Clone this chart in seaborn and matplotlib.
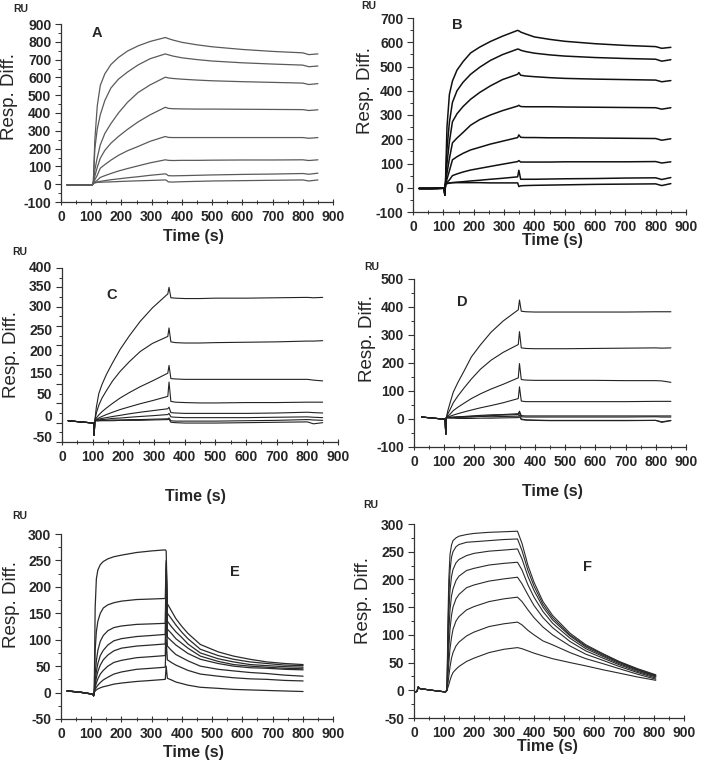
import numpy as np
import pandas as pd
import matplotlib
matplotlib.use("Agg")
import matplotlib.pyplot as plt
from matplotlib.ticker import MultipleLocator
import seaborn as sns

# ---------------- data ----------------
grid_t = [107, 112, 120, 130, 145, 165, 190, 220, 255, 295, 345, 349, 355, 370,
          400, 450, 500, 600, 700, 800, 820, 850]

a_base_t = [20, 60, 104]
a_base = [-4, -4, -3]
a_curves = [
    [10, 250, 440, 555, 620, 672, 712, 748, 777, 802, 824, 822, 818, 810, 797, 783, 772, 757, 746, 738, 728, 732],
    [10, 200, 310, 390, 470, 540, 590, 630, 670, 705, 732, 730, 727, 720, 710, 700, 692, 682, 675, 669, 660, 664],
    [10, 80, 150, 221, 285, 340, 400, 460, 515, 558, 601, 600, 597, 594, 590, 585, 581, 576, 572, 568, 560, 565],
    [10, 45, 95, 146, 190, 230, 268, 308, 350, 390, 432, 430, 426, 424, 423, 422, 422, 421, 420, 419, 414, 418],
    [8, 25, 50, 90, 110, 135, 162, 188, 212, 241, 268, 266, 263, 262, 262, 262, 262, 262, 262, 262, 258, 262],
    [6, 12, 22, 38, 48, 60, 74, 88, 103, 120, 137, 136, 134, 133, 134, 134, 135, 136, 136, 137, 133, 137],
    [5, 8, 12, 16, 20, 25, 30, 36, 42, 50, 58, 56, 48, 47, 48, 50, 52, 55, 57, 60, 56, 62],
    [5, 8, 10, 11, 12, 13, 15, 17, 19, 21, 24, 22, 13, 12, 14, 16, 18, 20, 22, 24, 18, 24],
]

b_base_t = [20, 60, 103, 105]
b_base = [-3, -3, -2, -30]
b_curves = [
    [15, 250, 385, 440, 485, 520, 556, 580, 603, 625, 649, 647, 642, 635, 622, 612, 604, 594, 587, 582, 575, 579],
    [15, 160, 270, 352, 400, 435, 468, 497, 525, 549, 572, 571, 567, 562, 555, 548, 543, 537, 533, 530, 522, 528],
    [15, 100, 190, 272, 305, 335, 365, 393, 420, 446, 468, 475, 464, 461, 458, 454, 451, 448, 446, 444, 437, 442],
    [15, 60, 120, 185, 205, 228, 258, 281, 300, 318, 337, 340, 335, 334, 334, 334, 333, 332, 331, 330, 324, 330],
    [15, 35, 70, 115, 128, 142, 156, 167, 180, 192, 207, 218, 208, 207, 207, 206, 206, 205, 204, 203, 196, 202],
    [15, 22, 32, 50, 57, 65, 73, 80, 88, 97, 108, 112, 106, 106, 106, 106, 107, 107, 107, 108, 102, 107],
    [15, 17, 19, 21, 23, 25, 28, 31, 35, 39, 45, 72, 35, 35, 35, 36, 37, 38, 40, 41, 34, 42],
    [15, 18, 20, 21, 21, 21, 21, 21, 20, 20, 20, 5, 8, 9, 10, 11, 12, 14, 15, 16, 9, 17],
]

c_base_t = [20, 60, 103, 105]
c_base = [5, 2, -1, -33]
c_curves = [
    [5, 40, 75, 98, 125, 155, 190, 225, 262, 297, 333, 350, 323, 322, 321, 321, 322, 322, 323, 324, 323, 324],
    [5, 25, 45, 63, 83, 108, 133, 158, 184, 205, 223, 245, 209, 207, 206, 206, 207, 208, 209, 211, 211, 212],
    [5, 12, 20, 28, 38, 50, 64, 78, 93, 108, 128, 148, 114, 113, 112, 112, 112, 112, 112, 112, 110, 108],
    [5, 8, 12, 16, 21, 27, 34, 41, 49, 57, 68, 105, 55, 53, 52, 51, 51, 52, 52, 53, 53, 53],
    [5, 7, 9, 11, 13, 16, 19, 23, 27, 31, 36, 40, 26, 25, 24, 24, 24, 24, 25, 27, 26, 25],
    [5, 6, 7, 8, 9, 11, 12, 14, 16, 18, 21, 24, 15, 14, 13, 13, 13, 13, 14, 15, 14, 13],
    [5, 5, 5, 6, 6, 7, 7, 8, 8, 9, 10, 12, 5, 4, 4, 4, 4, 5, 6, 8, 7, 6],
    [5, 5, 5, 5, 5, 5, 6, 6, 6, 7, 8, 9, 1, 0, -1, -1, -1, 0, 1, 2, -3, 0],
]
c_ylabels = ["400", "350", "300", "250", "200", "150", "50", "0", "-50"]

d_base_t = [25, 65, 103, 105]
d_base = [7, 3, -1, -55]
d_curves = [
    [5, 30, 60, 96, 130, 170, 222, 265, 310, 350, 390, 425, 385, 383, 382, 382, 382, 382, 382, 383, 383, 383],
    [5, 18, 35, 58, 82, 110, 143, 178, 210, 238, 266, 312, 254, 252, 251, 251, 251, 252, 253, 254, 253, 254],
    [5, 10, 18, 30, 42, 56, 73, 90, 107, 124, 147, 198, 141, 139, 138, 138, 138, 138, 137, 137, 136, 131],
    [5, 7, 10, 14, 19, 25, 32, 40, 48, 58, 73, 115, 64, 62, 62, 62, 62, 62, 62, 63, 63, 63],
    [5, 5, 6, 7, 8, 9, 11, 13, 15, 16, 19, 28, 12, 11, 11, 11, 11, 11, 11, 11, 11, 11],
    [5, 5, 6, 6, 7, 8, 9, 11, 12, 14, 16, 22, 8, 7, 7, 7, 7, 7, 7, 8, 7, 7],
    [5, 5, 5, 5, 6, 6, 7, 9, 8, 9, 10, 14, 0, -3, -4, -5, -5, -5, -5, -5, -10, -5],
    [5, 4, 3, 3, 2, 2, 2, 3, 3, 4, 5, 8, -2, -4, -5, -6, -6, -6, -6, -5, -12, -6],
]

e_base_t = [20, 60, 105, 108]
e_base = [3, 1, -3, -6]
e_t = [110, 113, 117, 122, 130, 140, 155, 175, 200, 250, 300, 345, 348, 352, 365,
       380, 400, 420, 461, 520, 571, 625, 681, 740, 801]
e_curves = [
    [0, 160, 215, 232, 242, 248, 253, 257, 260, 265, 268, 270, 268, 168, 155, 140, 125, 112, 91, 77, 69, 63, 58, 55, 53],
    [0, 80, 115, 135, 150, 160, 166, 170, 173, 176, 177, 178, 250, 150, 140, 128, 114, 102, 82, 70, 63, 58, 55, 52, 51],
    [0, 35, 60, 80, 97, 108, 117, 123, 126, 129, 130, 131, 245, 135, 125, 115, 104, 92, 75, 64, 58, 53, 51, 49, 48],
    [0, 22, 40, 55, 70, 80, 90, 98, 102, 106, 108, 110, 235, 120, 112, 102, 93, 84, 69, 59, 53, 50, 48, 46, 45],
    [0, 15, 28, 40, 52, 62, 71, 79, 84, 88, 90, 92, 200, 105, 98, 90, 82, 74, 63, 55, 50, 47, 46, 44, 43],
    [0, 10, 18, 26, 35, 42, 50, 57, 61, 66, 68, 70, 150, 88, 80, 72, 66, 60, 50, 44, 41, 38, 36, 33, 31],
    [0, 6, 10, 14, 19, 24, 29, 35, 39, 44, 46, 48, 100, 62, 57, 52, 47, 42, 35, 31, 28, 26, 25, 23, 22],
    [0, 3, 5, 7, 9, 11, 13, 16, 18, 21, 23, 25, 50, 27, 24, 20, 17, 14, 10, 8, 6, 5, 4, 3, 2],
]

f_base_t = [5, 10, 14, 20, 60, 105]
f_base = [-3, -2, 6, 3, 0, -3]
f_t = [110, 113, 116, 120, 125, 130, 140, 150, 175, 200, 250, 300, 345, 360, 380,
       400, 430, 462, 520, 573, 630, 684, 745, 806]
f_curves = [
    [0, 120, 200, 245, 262, 270, 275, 278, 281, 283, 285, 286, 287, 265, 225, 195, 160, 135, 103, 82, 66, 52, 39, 28],
    [0, 100, 170, 215, 240, 250, 259, 263, 267, 268, 270, 272, 273, 252, 216, 188, 155, 131, 100, 80, 65, 51, 38, 27],
    [0, 80, 140, 180, 205, 218, 230, 236, 243, 247, 251, 253, 255, 237, 205, 180, 150, 127, 98, 78, 63, 50, 37, 26],
    [0, 60, 105, 145, 170, 183, 198, 206, 216, 220, 226, 229, 231, 217, 190, 168, 142, 121, 94, 75, 61, 48, 36, 25],
    [0, 40, 75, 110, 135, 150, 165, 173, 185, 190, 197, 201, 204, 192, 172, 153, 131, 113, 88, 71, 58, 46, 34, 24],
    [0, 25, 48, 75, 95, 110, 125, 133, 145, 151, 160, 165, 168, 160, 145, 131, 114, 100, 80, 65, 54, 43, 32, 22],
    [0, 12, 25, 42, 58, 68, 80, 87, 98, 105, 115, 120, 123, 118, 108, 100, 89, 82, 68, 57, 48, 39, 29, 20],
    [0, 5, 10, 18, 26, 32, 38, 43, 52, 58, 68, 74, 77, 75, 71, 67, 62, 57, 50, 44, 37, 31, 24, 18],
]

x_ticks = [0, 100, 200, 300, 400, 500, 600, 700, 800, 900]
panel_letters = ["A", "B", "C", "D", "E", "F"]

# ---------------- styling ----------------
sns.set_theme(style="ticks")
plt.rcParams["font.family"] = ["Liberation Sans", "DejaVu Sans"]

W, H = 704, 764
fig = plt.figure(figsize=(W / 100, H / 100), dpi=100)
fig.patch.set_facecolor("white")
TICK_FS = 10


def px_axes(x0, y0, x1, y1):
    return fig.add_axes([x0 / W, 1 - y1 / H, (x1 - x0) / W, (y1 - y0) / H])


def make_df(base_t, base, t, curves):
    rows = []
    for i, c in enumerate(curves):
        tt = list(base_t) + list(t)
        vv = list(base) + list(c)
        for a, b in zip(tt, vv):
            rows.append((a, b, i))
    return pd.DataFrame(rows, columns=["time", "resp", "curve"])


panels = [
    dict(box=(61, 24, 333, 202), data=(a_base_t, a_base, grid_t, a_curves), ylim=(-100, 900),
         major=100, minor=50, color="#5a5a5a", lw=0.9,
         letter=(97, 33), ru=(21, 9), ylab=(10, 97), xlab=(193, 236)),
    dict(box=(413, 18, 686, 212), data=(b_base_t, b_base, grid_t, b_curves), ylim=(-100, 700),
         major=100, minor=50, color="#111111", lw=1.1,
         letter=(457, 25), ru=(369, 6), ylab=(366, 90), xlab=(552, 240)),
    dict(box=(62, 268, 338, 442), data=(c_base_t, c_base, grid_t, c_curves), ylim=(-50, 400),
         major=50, minor=25, color="#222222", lw=0.8,
         letter=(112, 295), ru=(20, 252), ylab=(12, 355), xlab=(195, 497)),
    dict(box=(414, 279, 686, 447), data=(d_base_t, d_base, grid_t, d_curves), ylim=(-100, 500),
         major=100, minor=50, color="#222222", lw=0.8,
         letter=(462, 302), ru=(372, 267), ylab=(367, 338), xlab=(552, 492)),
    dict(box=(61, 534, 333, 719), data=(e_base_t, e_base, e_t, e_curves), ylim=(-50, 300),
         major=50, minor=25, color="#2a2a2a", lw=0.9,
         letter=(235, 572), ru=(20, 516), ylab=(12, 605), xlab=(193, 752)),
    dict(box=(414, 524, 684, 718), data=(f_base_t, f_base, f_t, f_curves), ylim=(-50, 300),
         major=50, minor=25, color="#2a2a2a", lw=0.8,
         letter=(587, 567), ru=(371, 505), ylab=(364, 600), xlab=(547, 747)),
]

c_label_pos = [400, 350, 300, 237, 184, 126, 71, 15, -40]

for k, p in enumerate(panels):
    ax = px_axes(*p["box"])
    df = make_df(*p["data"])
    sns.lineplot(data=df, x="time", y="resp", units="curve", estimator=None,
                 color=p["color"], lw=p["lw"], sort=False, legend=False, ax=ax)
    ax.set_xlim(0, 900)
    ax.set_ylim(*p["ylim"])
    ax.set_xlabel("")
    ax.set_ylabel("")
    sns.despine(ax=ax)
    for s in ("left", "bottom"):
        ax.spines[s].set_color("#333333")
        ax.spines[s].set_linewidth(0.9)
    ax.set_xticks(x_ticks)
    ax.set_xticklabels([str(v) for v in x_ticks], fontweight="bold", fontsize=TICK_FS)
    ax.xaxis.set_minor_locator(MultipleLocator(50))
    lo, hi = p["ylim"]
    yt = list(range(lo, hi + 1, p["major"]))
    ax.set_yticks(yt)
    if k == 2:
        ax.set_yticklabels([""] * len(yt))
        for txt, pos in zip(c_ylabels, c_label_pos):
            ax.annotate(txt, xy=(0, pos), xycoords=("axes fraction", "data"),
                        xytext=(-7, 0), textcoords="offset points",
                        ha="right", va="center", fontsize=TICK_FS, fontweight="bold")
    else:
        ax.set_yticklabels([str(v) for v in yt], fontweight="bold", fontsize=TICK_FS)
    ax.yaxis.set_minor_locator(MultipleLocator(p["minor"]))
    ax.tick_params(axis="x", which="major", direction="inout", length=5, width=0.8,
                   color="#333333", pad=3)
    ax.tick_params(axis="x", which="minor", direction="inout", length=3, width=0.7,
                   color="#333333")
    ax.tick_params(axis="y", which="major", direction="out", length=4, width=0.8,
                   color="#333333", pad=3)
    ax.tick_params(axis="y", which="minor", direction="out", length=2, width=0.7,
                   color="#333333")
    lx, ly = p["letter"]
    fig.text(lx / W, 1 - ly / H, panel_letters[k], ha="center", va="center",
             fontsize=10.5, fontweight="bold")
    rx, ry = p["ru"]
    fig.text(rx / W, 1 - ry / H, "RU", ha="center", va="center",
             fontsize=7.5, fontweight="bold")
    yx, yy = p["ylab"]
    fig.text(yx / W, 1 - yy / H, "Resp. Diff.", ha="center", va="center",
             rotation=90, fontsize=13.5)
    xx, xy = p["xlab"]
    fig.text(xx / W, 1 - xy / H, "Time (s)", ha="center", va="center",
             fontsize=11.5, fontweight="bold")

fig.savefig("out.png", dpi=100, facecolor="white")
